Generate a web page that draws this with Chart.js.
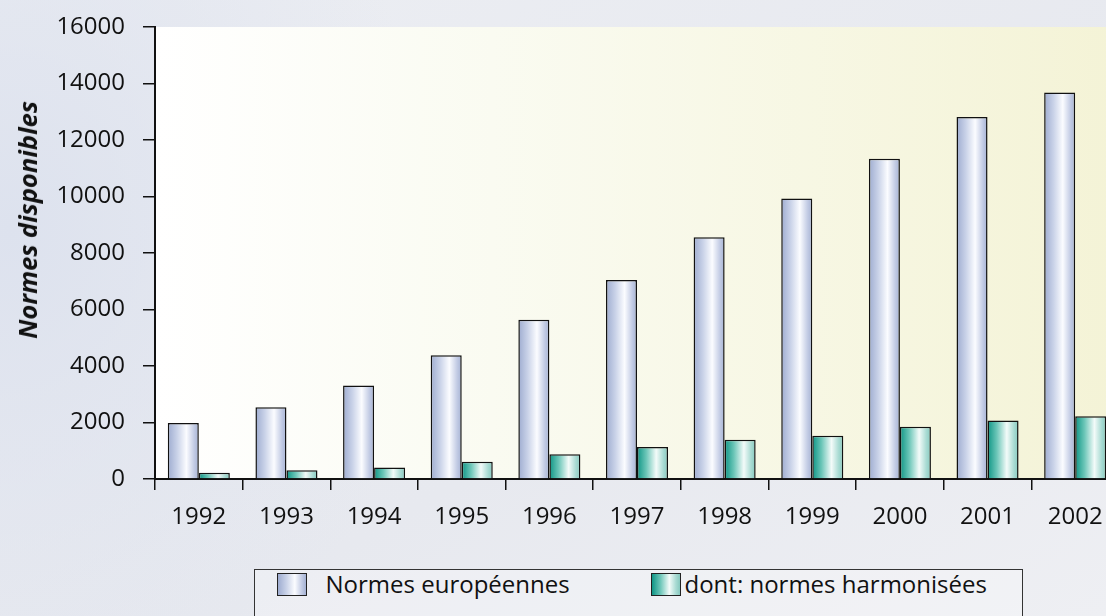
<!DOCTYPE html>
<html>
<head>
<meta charset="utf-8">
<script src="https://cdn.jsdelivr.net/npm/chart.js@4/dist/chart.umd.min.js"></script>
<style>
    html, body { margin: 0; padding: 0; }
    body {
        width: 1106px;
        height: 616px;
        overflow: hidden;
        background: radial-gradient(ellipse 420px 520px at 10px 230px, #dde2ee 0%, rgba(221,226,238,0) 100%),
                    linear-gradient(to bottom right, #eceef3 0%, #e7e9ef 60%, #eeeff3 100%);
        font-family: "Open Sans", sans-serif;
    }
    #wrap { position: relative; width: 1106px; height: 616px; overflow: hidden; }
    #chart { position: absolute; left: 0; top: 0; }
    #ytitle {
        position: absolute;
        left: 27px;
        top: 220px;
        transform: translate(-50%, -50%) rotate(-90deg);
        white-space: nowrap;
        font-size: 25.5px;
        font-weight: bold;
        font-style: italic;
        color: #111;
    }
    #legend {
        position: absolute;
        left: 254px;
        top: 569px;
        width: 769px;
        height: 70px;
        border: 1.5px solid #333;
        box-sizing: border-box;
        background: rgba(255, 255, 255, 0.25);
    }
    .txt { position: absolute; top: 1.5px; font-size: 24px; line-height: 24px; color: #111; white-space: nowrap; }
    .sw {
        position: absolute;
        top: 2.5px;
        width: 30px;
        height: 23px;
        box-sizing: border-box;
        border: 1.5px solid #222;
    }
</style>
</head>
<body>
<div id="wrap">
    <canvas id="chart" width="1125" height="545"></canvas>
    <div id="ytitle">Normes disponibles</div>
    <div id="legend"></div>
</div>
<script>
// data
const years = ['1992', '1993', '1994', '1995', '1996', '1997', '1998', '1999', '2000', '2001', '2002'];
const normesEuropeennes = [1980, 2540, 3310, 4380, 5640, 7040, 8560, 9930, 11340, 12810, 13680];
const normesHarmonisees = [220, 310, 410, 610, 880, 1130, 1390, 1530, 1850, 2070, 2220];
const seriesLabels = ['Normes européennes', 'dont: normes harmonisées'];
const yMin = 0, yMax = 16000, yStep = 2000;

const catPct = 0.708;

const blueStops = [[0, '#9eacd0'], [0.3, '#c9d2e8'], [0.6, '#fbfcff'], [0.85, '#c2cbe4'], [1, '#a5b2d4']];
const greenStops = [[0, '#0e9585'], [0.3, '#6cc6b8'], [0.62, '#f3fbf9'], [0.85, '#a9dbd3'], [1, '#86c9bf']];

function barGradient(ctx, stops) {
    const chart = ctx.chart;
    const xs = chart.scales.x;
    if (!xs || ctx.type !== 'data') return stops[2][1];
    const center = xs.getPixelForValue(ctx.dataIndex);
    const catW = xs.width / years.length;
    const barW = catW * catPct / 2;
    const left = ctx.datasetIndex === 0 ? center - barW : center;
    if (!isFinite(left) || !isFinite(barW) || barW <= 0) return stops[2][1];
    const g = chart.ctx.createLinearGradient(left, 0, left + barW, 0);
    stops.forEach(s => g.addColorStop(s[0], s[1]));
    return g;
}

const plotBackground = {
    id: 'plotBackground',
    beforeDraw(chart) {
        const a = chart.chartArea;
        const c = chart.ctx;
        const g = c.createLinearGradient(a.left, 0, a.right, 0);
        g.addColorStop(0, '#ffffff');
        g.addColorStop(0.35, '#fafbf1');
        g.addColorStop(1, '#f4f3d6');
        c.save();
        c.fillStyle = g;
        c.fillRect(a.left, a.top, a.right - a.left, a.bottom - a.top);
        c.restore();
    }
};

const canvas = document.getElementById('chart');

const chart = new Chart(canvas, {
    type: 'bar',
    data: {
        labels: years,
        datasets: [
            {
                label: seriesLabels[0],
                data: normesEuropeennes,
                backgroundColor: ctx => barGradient(ctx, blueStops),
                borderColor: '#111',
                borderWidth: 1.5
            },
            {
                label: seriesLabels[1],
                data: normesHarmonisees,
                backgroundColor: ctx => barGradient(ctx, greenStops),
                borderColor: '#111',
                borderWidth: 1.5
            }
        ]
    },
    options: {
        responsive: false,
        animation: false,
        devicePixelRatio: 1,
        categoryPercentage: catPct,
        barPercentage: 1,
        layout: { padding: { top: 27, right: 6, left: 0, bottom: 0 } },
        plugins: {
            legend: { display: false },
            tooltip: { enabled: false }
        },
        scales: {
            x: {
                grid: {
                    offset: true,
                    drawOnChartArea: false,
                    drawTicks: true,
                    tickLength: 11,
                    color: '#111',
                    lineWidth: 1.5
                },
                border: { color: '#111', width: 2 },
                ticks: {
                    color: '#111',
                    padding: 13,
                    maxRotation: 0,
                    font: { family: 'Open Sans', size: 24 }
                },
                afterFit: s => { s.height = 66; }
            },
            y: {
                min: yMin,
                max: yMax,
                grid: {
                    drawOnChartArea: false,
                    drawTicks: true,
                    tickLength: 12,
                    color: '#111',
                    lineWidth: 1.5
                },
                border: { color: '#111', width: 2 },
                ticks: {
                    stepSize: yStep,
                    color: '#111',
                    padding: 18,
                    font: { family: 'Open Sans', size: 24 },
                    callback: v => String(v)
                },
                afterFit: s => {
                    s.width = 155;
                    s.paddingTop = 0;
                    s.paddingBottom = 0;
                }
            }
        }
    },
    plugins: [plotBackground]
});

// legend box, built from the series labels
const legend = document.getElementById('legend');
const swatchX = [21.5, 395.5];
const textX = [70.5, 429.5];
const swatchCss = [blueStops, greenStops].map(stops =>
    'linear-gradient(to right, ' + stops.map(s => s[1] + ' ' + (s[0] * 100) + '%').join(', ') + ')');
seriesLabels.forEach((label, i) => {
    const sw = document.createElement('div');
    sw.className = 'sw';
    sw.style.left = swatchX[i] + 'px';
    sw.style.background = swatchCss[i];
    legend.appendChild(sw);
    const txt = document.createElement('div');
    txt.className = 'txt';
    txt.style.left = textX[i] + 'px';
    txt.textContent = label;
    legend.appendChild(txt);
});
</script>
</body>
</html>
